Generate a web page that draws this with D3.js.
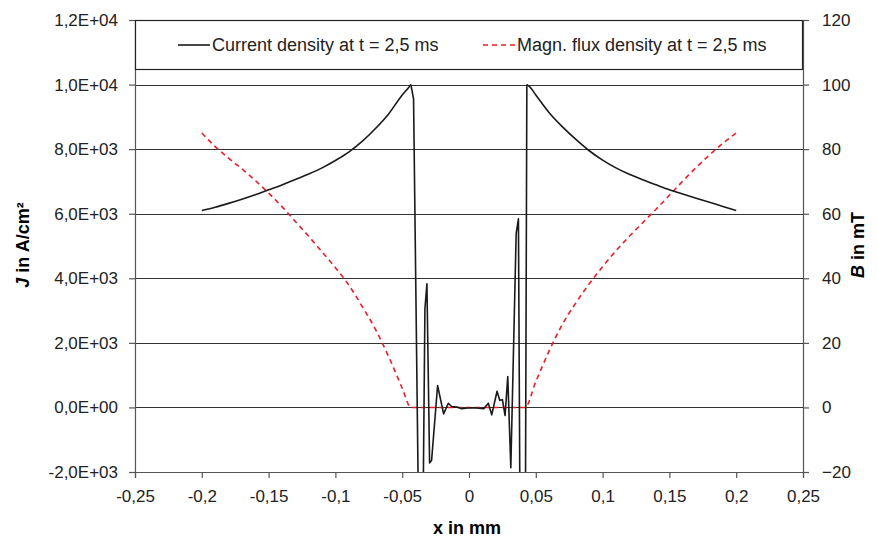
<!DOCTYPE html>
<html><head><meta charset="utf-8">
<script src="https://cdn.jsdelivr.net/npm/d3@7/dist/d3.min.js"></script>
<style>
body{margin:0;background:#fff;}
svg text{font-family:"Liberation Sans",Arial,sans-serif;}
</style></head>
<body><svg id="c" width="878" height="540"></svg>
<script>
// ---- data ----
const jX = [-0.2,-0.19,-0.18,-0.17,-0.16,-0.15,-0.14,-0.13,-0.12,-0.11,-0.10,-0.09,-0.08,-0.07,-0.06,-0.05,-0.045,-0.0435,-0.0415,-0.037,-0.035,-0.033,-0.0315,-0.0295,-0.028,-0.0235,-0.019,-0.0155,-0.013,-0.009,-0.0055,-0.001,0.004,0.011,0.0145,0.017,0.021,0.023,0.025,0.027,0.029,0.0313,0.0353,0.037,0.0385,0.042,0.0433,0.0457,0.05,0.06,0.07,0.08,0.09,0.10,0.11,0.12,0.13,0.14,0.15,0.16,0.17,0.18,0.19,0.2];
const jValues = [6100,6200,6320,6450,6590,6740,6890,7060,7230,7420,7650,7910,8240,8640,9100,9680,9920,10000,9560,-6000,-6000,3050,3830,-1720,-1640,680,-200,130,30,10,-40,-20,-10,-40,130,-230,500,220,240,-250,960,-1870,5380,5840,-6000,-6000,10000,9920,9680,9130,8690,8300,7950,7660,7420,7220,7050,6895,6745,6610,6480,6355,6225,6100];
const bX = [-0.2,-0.19,-0.18,-0.17,-0.16,-0.15,-0.14,-0.13,-0.12,-0.11,-0.10,-0.09,-0.08,-0.07,-0.06,-0.05,-0.0435,-0.02,0,0.02,0.042,0.05,0.06,0.07,0.08,0.09,0.10,0.11,0.12,0.13,0.14,0.15,0.16,0.17,0.18,0.19,0.2];
const bValues = [85,80.8,77.2,73.9,70.3,66.4,62.2,57.6,53.0,48.2,43.3,37.9,31.3,24.2,15.6,6.0,0,0,0,0,0,8.0,17.5,25.8,32.4,38.3,43.6,48.5,53.0,57.2,61.4,65.7,70.1,74.3,78.2,81.8,85];
const xTicks = [-0.25,-0.2,-0.15,-0.1,-0.05,0,0.05,0.1,0.15,0.2,0.25];
const jTicks = [-2000,0,2000,4000,6000,8000,10000,12000];
const jTickLabels = ["-2,0E+03","0,0E+00","2,0E+03","4,0E+03","6,0E+03","8,0E+03","1,0E+04","1,2E+04"];
const bTicks = [-20,0,20,40,60,80,100,120];
const legendLabels = ["Current density at t = 2,5 ms","Magn. flux density at t = 2,5 ms"];

// ---- layout ----
const L=135, R=803, T=20, B=472;
const svg = d3.select("#c");
const x = d3.scaleLinear().domain([-0.25,0.25]).range([L,R]);
const yJ = d3.scaleLinear().domain([-2000,12000]).range([B,T]);
const yB = d3.scaleLinear().domain([-20,120]).range([B,T]);
const fmtX = d => d===0 ? "0" : String(d).replace(".",",");

// gridlines
svg.append("g").selectAll("line").data(jTicks).join("line")
  .attr("x1",L).attr("x2",R).attr("y1",d=>Math.round(yJ(d))+0.5).attr("y2",d=>Math.round(yJ(d))+0.5)
  .attr("stroke","#333").attr("stroke-width",1);

// axes
const axL = svg.append("g").attr("transform",`translate(${L},0)`)
  .call(d3.axisLeft(yJ).tickValues(jTicks).tickFormat((d,i)=>jTickLabels[i]).tickSize(6).tickPadding(11));
const axR = svg.append("g").attr("transform",`translate(${R},0)`)
  .call(d3.axisRight(yB).tickValues(bTicks).tickSize(6).tickPadding(13));
const axX = svg.append("g").attr("transform",`translate(0,${B})`)
  .call(d3.axisBottom(x).tickValues(xTicks).tickFormat(fmtX).tickSize(6).tickPadding(12));
[axL,axR,axX].forEach(a=>{
  a.selectAll("path.domain").attr("stroke","#555").attr("stroke-width",1.2);
  a.selectAll(".tick line").attr("stroke","#555").attr("stroke-width",1.2);
  a.selectAll("text").attr("font-size",17).attr("fill","#222")
   .style("font-family",'"Liberation Sans",Arial,sans-serif');
});

// clip
svg.append("clipPath").attr("id","clip").append("rect").attr("x",L).attr("y",T).attr("width",R-L).attr("height",B-T);

// lines
const jData = jX.map((v,i)=>[v,jValues[i]]);
const bData = bX.map((v,i)=>[v,bValues[i]]);
svg.append("path").datum(bData).attr("clip-path","url(#clip)")
  .attr("d",d3.line().curve(d3.curveMonotoneX).x(d=>x(d[0])).y(d=>yB(d[1])))
  .attr("fill","none").attr("stroke","#ee1c25").attr("stroke-width",1.6).attr("stroke-dasharray","5,4");
const smooth = d3.line().curve(d3.curveMonotoneX).x(d=>x(d[0])).y(d=>yJ(d[1]));
const straight = d3.line().x(d=>x(d[0])).y(d=>yJ(d[1]));
const jParts = [
  {d: jData.filter(p=>p[0]<=-0.0435), f: smooth},
  {d: jData.filter(p=>p[0]>=-0.0435 && p[0]<=0.0433), f: straight},
  {d: jData.filter(p=>p[0]>=0.0433), f: smooth}
];
svg.append("g").attr("clip-path","url(#clip)").selectAll("path").data(jParts).join("path")
  .attr("d",p=>p.f(p.d))
  .attr("fill","none").attr("stroke","#1a1a1a").attr("stroke-width",1.6).attr("stroke-linejoin","round");

// legend box
const lg = svg.append("g");
lg.append("rect").attr("x",L+0.5).attr("y",T+0.5).attr("width",R-L-1).attr("height",49)
  .attr("fill","#fff").attr("stroke","#222").attr("stroke-width",1.2);
lg.append("line").attr("x1",178).attr("x2",210).attr("y1",45).attr("y2",45).attr("stroke","#1a1a1a").attr("stroke-width",1.6);
lg.append("text").attr("x",212).attr("y",51).attr("font-size",18).attr("fill","#222").text(legendLabels[0]);
lg.append("line").attr("x1",483).attr("x2",515).attr("y1",45).attr("y2",45).attr("stroke","#ee1c25").attr("stroke-width",1.6).attr("stroke-dasharray","5,4");
lg.append("text").attr("x",517).attr("y",51).attr("font-size",18).attr("fill","#222").text(legendLabels[1]);

// axis titles
const yl = svg.append("text").attr("transform","translate(29,245) rotate(-90)").attr("text-anchor","middle")
  .attr("font-size",18).attr("font-weight","bold");
yl.append("tspan").attr("font-style","italic").text("J");
yl.append("tspan").text(" in A/cm²");
const yr = svg.append("text").attr("transform","translate(864,245) rotate(-90)").attr("text-anchor","middle")
  .attr("font-size",18).attr("font-weight","bold");
yr.append("tspan").attr("font-style","italic").text("B");
yr.append("tspan").text(" in mT");
svg.append("text").attr("x",467).attr("y",534).attr("text-anchor","middle").attr("font-size",18)
  .attr("font-weight","bold").text("x in mm");
</script></body></html>
